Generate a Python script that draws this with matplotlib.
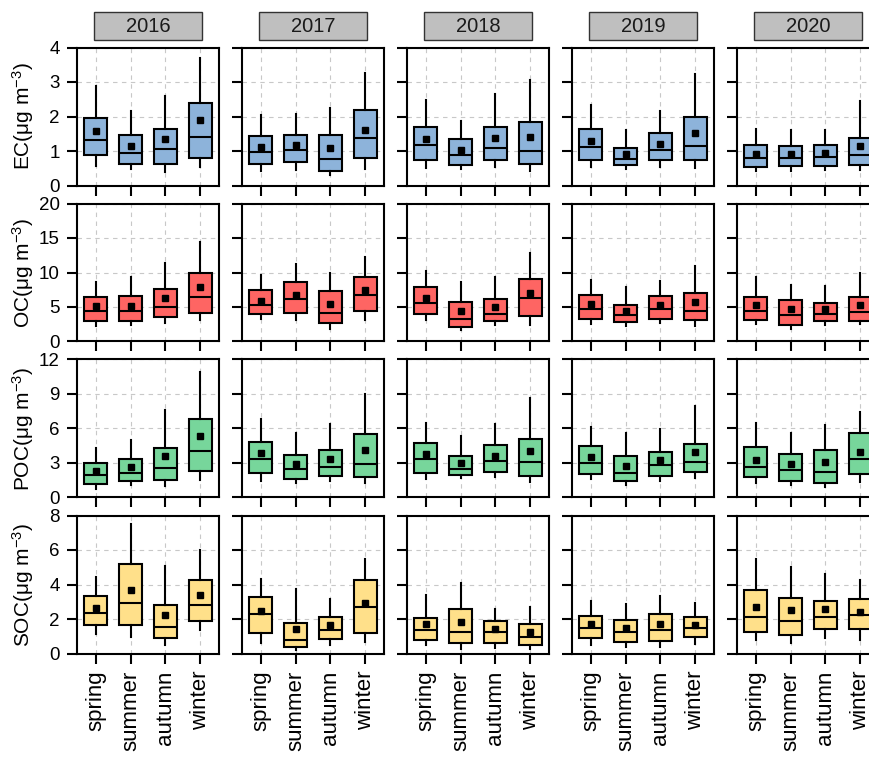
import matplotlib
matplotlib.use('Agg')
import matplotlib.pyplot as plt
from matplotlib.patches import Rectangle

plt.rcParams['font.family'] = ['Liberation Sans', 'DejaVu Sans']
plt.rcParams['mathtext.default'] = 'regular'

years = ['2016', '2017', '2018', '2019', '2020']
seasons = ['spring', 'summer', 'autumn', 'winter']

# each box: (whisker low, q1, median, q3, whisker high, mean)
ec = [
    [(0.57, 0.88, 1.33, 1.97, 2.88, 1.58), (0.48, 0.63, 0.94, 1.46, 2.15, 1.15),
     (0.40, 0.63, 1.05, 1.65, 2.59, 1.35), (0.55, 0.81, 1.41, 2.39, 3.69, 1.89)],
    [(0.43, 0.63, 0.96, 1.44, 2.05, 1.12), (0.45, 0.68, 1.04, 1.46, 2.06, 1.18),
     (0.29, 0.43, 0.78, 1.45, 2.24, 1.09), (0.47, 0.79, 1.37, 2.19, 3.25, 1.60)],
    [(0.51, 0.74, 1.18, 1.70, 2.49, 1.35), (0.48, 0.60, 0.87, 1.34, 1.88, 1.03),
     (0.54, 0.74, 1.09, 1.69, 2.66, 1.39), (0.41, 0.63, 1.00, 1.83, 3.05, 1.41)],
    [(0.53, 0.73, 1.12, 1.63, 2.32, 1.30), (0.48, 0.60, 0.78, 1.10, 1.62, 0.92),
     (0.54, 0.73, 1.03, 1.52, 2.15, 1.21), (0.51, 0.73, 1.15, 1.98, 3.24, 1.53)],
    [(0.41, 0.54, 0.80, 1.18, 1.64, 0.92), (0.42, 0.56, 0.81, 1.14, 1.60, 0.91),
     (0.44, 0.57, 0.83, 1.17, 1.60, 0.95), (0.44, 0.60, 0.89, 1.39, 2.45, 1.15)],
]
oc = [
    [(2.27, 3.04, 4.40, 6.52, 8.65, 5.12), (2.37, 2.90, 4.35, 6.57, 9.28, 5.12),
     (2.71, 3.48, 5.02, 7.63, 11.40, 6.28), (3.14, 4.20, 6.43, 9.90, 14.35, 7.87)],
    [(3.19, 4.01, 5.36, 7.44, 9.66, 5.94), (3.09, 4.06, 6.18, 8.60, 11.26, 6.67),
     (1.88, 2.61, 4.11, 7.25, 9.86, 5.41), (3.09, 4.44, 6.71, 9.28, 12.27, 7.44)],
    [(3.09, 3.96, 5.60, 7.83, 10.24, 6.28), (1.64, 2.17, 3.33, 5.70, 8.60, 4.40),
     (2.37, 2.90, 3.96, 6.09, 9.28, 4.98), (2.42, 3.67, 6.33, 9.03, 12.85, 7.00)],
    [(2.56, 3.33, 4.73, 6.76, 8.89, 5.41), (2.22, 2.85, 3.77, 5.36, 7.97, 4.40),
     (2.66, 3.29, 4.69, 6.57, 8.79, 5.27), (2.27, 3.09, 4.49, 7.00, 10.97, 5.70)],
    [(2.51, 3.09, 4.40, 6.47, 9.42, 5.27), (1.88, 2.37, 3.91, 5.99, 8.16, 4.69),
     (2.42, 2.95, 3.96, 5.51, 8.07, 4.69), (2.51, 3.04, 4.30, 6.52, 9.90, 5.27)],
]
poc = [
    [(0.76, 1.14, 1.95, 2.97, 4.34, 2.33), (1.08, 1.43, 2.13, 3.35, 5.01, 2.68),
     (0.99, 1.54, 2.59, 4.34, 7.63, 3.64), (1.54, 2.27, 4.05, 6.85, 10.89, 5.39)],
    [(1.46, 2.16, 3.38, 4.81, 6.79, 3.90), (1.28, 1.63, 2.45, 3.70, 5.62, 2.91),
     (1.46, 1.84, 2.65, 4.14, 6.41, 3.38), (1.22, 1.81, 2.91, 5.53, 9.03, 4.14)],
    [(1.57, 2.16, 3.32, 4.78, 6.52, 3.82), (1.66, 1.92, 2.51, 3.61, 5.33, 3.03),
     (1.75, 2.24, 3.15, 4.57, 6.38, 3.64), (1.37, 1.84, 3.06, 5.10, 8.68, 4.08)],
    [(1.60, 2.04, 2.97, 4.46, 6.15, 3.55), (1.08, 1.43, 2.13, 3.61, 5.65, 2.77),
     (1.43, 1.89, 2.80, 3.93, 5.94, 3.29), (1.66, 2.21, 3.12, 4.69, 7.98, 3.99)],
    [(1.22, 1.75, 2.65, 4.43, 6.44, 3.29), (1.08, 1.46, 2.39, 3.82, 5.59, 2.94),
     (0.90, 1.28, 2.24, 4.17, 6.32, 3.12), (1.37, 2.01, 3.38, 5.59, 7.43, 3.95)],
]
soc = [
    [(1.12, 1.63, 2.36, 3.35, 4.42, 2.62), (0.95, 1.63, 2.93, 5.19, 7.50, 3.70),
     (0.48, 0.89, 1.51, 2.79, 5.10, 2.21), (1.34, 1.86, 2.81, 4.26, 6.01, 3.37)],
    [(0.58, 1.20, 2.29, 3.28, 4.32, 2.48), (0.19, 0.37, 0.78, 1.74, 3.76, 1.40),
     (0.48, 0.83, 1.38, 2.11, 3.14, 1.63), (0.64, 1.18, 2.71, 4.28, 5.50, 2.91)],
    [(0.48, 0.79, 1.34, 2.05, 3.39, 1.71), (0.25, 0.58, 1.24, 2.60, 4.11, 1.82),
     (0.29, 0.58, 1.22, 1.88, 2.58, 1.41), (0.25, 0.50, 0.97, 1.69, 2.69, 1.22)],
    [(0.48, 0.89, 1.47, 2.15, 3.04, 1.71), (0.39, 0.64, 1.26, 1.94, 2.87, 1.45),
     (0.35, 0.72, 1.36, 2.27, 3.33, 1.71), (0.54, 0.93, 1.47, 2.09, 2.93, 1.65)],
    [(0.76, 1.24, 2.09, 3.66, 5.48, 2.67), (0.62, 1.10, 1.90, 3.24, 5.04, 2.50),
     (0.87, 1.41, 2.11, 3.06, 4.63, 2.56), (0.81, 1.43, 2.24, 3.14, 4.28, 2.43)],
]

row_labels = ['EC', 'OC', 'POC', 'SOC']
row_data = [ec, oc, poc, soc]
row_colors = ['#8db3da', '#fe6563', '#77d69b', '#ffe08a']
row_ymax = [4, 20, 12, 8]
row_step = [1, 5, 3, 2]

W, H = 869, 758
fig = plt.figure(figsize=(W / 100, H / 100), dpi=100)


def add_px_axes(left, top, w, h):
    return fig.add_axes([left / W, 1 - (top + h) / H, w / W, h / H])


for r in range(4):
    for c, year in enumerate(years):
        left = 77 + c * 165
        top = 47.5 + r * 156
        ax = add_px_axes(left, top, 142, 138)
        stats = []
        for s, (lo, q1, med, q3, hi, mean) in zip(seasons, row_data[r][c]):
            stats.append(dict(label=s, whislo=lo, q1=q1, med=med, q3=q3,
                              whishi=hi, mean=mean, fliers=[]))
        ax.bxp(stats, positions=[1, 2, 3, 4], widths=0.65, patch_artist=True,
               showcaps=False, showmeans=True, showfliers=False,
               boxprops=dict(facecolor=row_colors[r], edgecolor='black', linewidth=1.5),
               medianprops=dict(color='black', linewidth=1.5),
               whiskerprops=dict(color='black', linewidth=1.5),
               meanprops=dict(marker='s', markerfacecolor='black',
                              markeredgecolor='black', markersize=5))
        ax.set_xlim(0.47, 4.53)
        ax.set_ylim(0, row_ymax[r])
        ax.set_yticks(range(0, row_ymax[r] + 1, row_step[r]))
        ax.grid(True, color='#c8c8c8', linestyle=(0, (4, 4)), linewidth=0.8)
        ax.set_axisbelow(True)
        for sp in ax.spines.values():
            sp.set_linewidth(1.5)
        ax.tick_params(direction='out', length=7.5, width=1.5, labelsize=13.5, pad=5)
        ax.tick_params(axis='x', labelsize=16, labelrotation=90, pad=5)
        if r < 3:
            ax.tick_params(labelbottom=False)
        if c > 0:
            ax.tick_params(labelleft=False)
        else:
            ax.set_ylabel(row_labels[r] + '(μg m$^{-3}$)', fontsize=15)
            ax.yaxis.set_label_coords(-0.29, 0.5)

        if r == 0:
            fig.add_artist(Rectangle(((left + 17) / W, 1 - 40 / H), 108 / W, 28 / H,
                                     transform=fig.transFigure, facecolor='#bfbfbf',
                                     edgecolor='#333333', linewidth=1))
            fig.text((left + 71) / W, 1 - 26 / H, year, fontsize=14.5,
                     ha='center', va='center', color='#1a1a1a')

fig.savefig('out.png', dpi=100)
